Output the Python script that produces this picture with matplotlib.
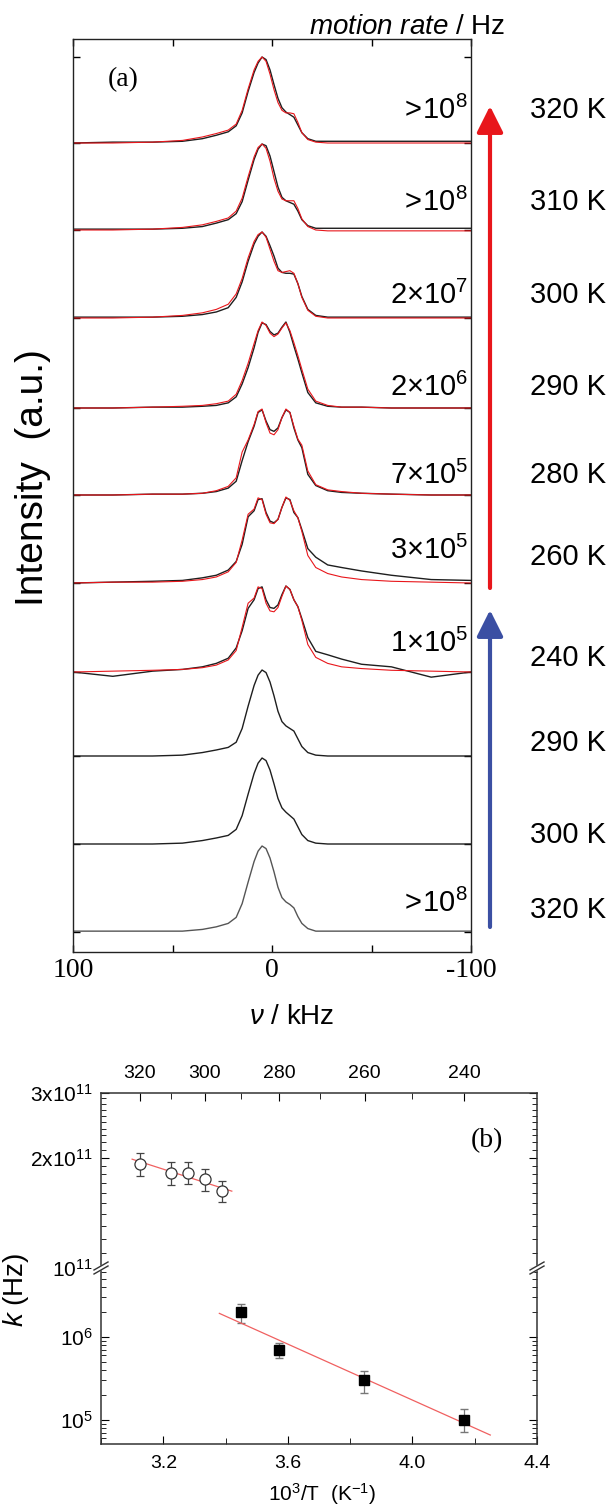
import matplotlib
matplotlib.use("Agg")
import matplotlib.pyplot as plt
import numpy as np
from matplotlib.lines import Line2D
from matplotlib.patches import Polygon

plt.rcParams["font.family"] = ["Liberation Sans", "DejaVu Sans"]
plt.rcParams["mathtext.fontset"] = "custom"
plt.rcParams["mathtext.rm"] = "Liberation Sans"
plt.rcParams["mathtext.it"] = "Liberation Sans:italic"
plt.rcParams["mathtext.default"] = "regular"

# ---------------- panel (a) data: 2H NMR spectra, normalised heights ----------------
nu = [100, 80, 60, 45, 35, 28, 22, 18, 15, 12, 9, 7, 5, 3, 1, -1, -3, -5, -7, -9,
      -11, -13, -15, -18, -22, -28, -35, -45, -60, -80, -100]

temps_a = ["320 K", "310 K", "300 K", "290 K", "280 K", "260 K", "240 K", "290 K", "300 K", "320 K"]
rates_a = [r"${>}\!10^{8}$", r"${>}\!10^{8}$", r"$2{\times}10^{7}$", r"$2{\times}10^{6}$", r"$7{\times}10^{5}$",
           r"$3{\times}10^{5}$", r"$1{\times}10^{5}$", "", "", r"${>}\!10^{8}$"]

exp_spectra = [
    [0.00, 0.01, 0.01, 0.02, 0.05, 0.09, 0.13, 0.20, 0.35, 0.60, 0.82, 0.93, 1.00, 0.97, 0.85, 0.68, 0.52, 0.41, 0.36, 0.33, 0.30, 0.21, 0.12, 0.05, 0.02, 0.02, 0.02, 0.02, 0.02, 0.02, 0.02],
    [0.01, 0.01, 0.01, 0.02, 0.04, 0.08, 0.12, 0.19, 0.33, 0.58, 0.82, 0.94, 1.00, 0.98, 0.86, 0.68, 0.50, 0.38, 0.34, 0.32, 0.30, 0.22, 0.12, 0.05, 0.02, 0.02, 0.02, 0.02, 0.02, 0.02, 0.02],
    [0.01, 0.01, 0.01, 0.02, 0.04, 0.07, 0.12, 0.24, 0.42, 0.66, 0.86, 0.95, 1.00, 0.95, 0.84, 0.72, 0.58, 0.53, 0.52, 0.52, 0.51, 0.40, 0.25, 0.10, 0.03, 0.01, 0.01, 0.01, 0.01, 0.01, 0.01],
    [0.00, 0.00, 0.01, 0.01, 0.02, 0.03, 0.06, 0.13, 0.28, 0.47, 0.70, 0.88, 0.99, 0.97, 0.89, 0.85, 0.87, 0.94, 1.00, 0.88, 0.72, 0.57, 0.41, 0.18, 0.06, 0.02, 0.01, 0.01, 0.00, 0.00, 0.00],
    [0.00, 0.00, 0.01, 0.01, 0.02, 0.04, 0.08, 0.16, 0.40, 0.62, 0.80, 0.96, 0.99, 0.86, 0.76, 0.74, 0.78, 0.90, 0.99, 0.96, 0.78, 0.64, 0.55, 0.24, 0.11, 0.05, 0.03, 0.02, 0.01, 0.00, 0.00],
    [0.00, 0.01, 0.02, 0.03, 0.06, 0.09, 0.15, 0.25, 0.45, 0.77, 0.84, 0.97, 0.98, 0.82, 0.72, 0.70, 0.74, 0.88, 0.99, 0.97, 0.82, 0.76, 0.62, 0.40, 0.30, 0.21, 0.18, 0.14, 0.09, 0.04, 0.03],
    [0.00, -0.05, 0.01, 0.03, 0.06, 0.10, 0.16, 0.28, 0.48, 0.74, 0.84, 0.97, 0.99, 0.84, 0.75, 0.74, 0.78, 0.90, 1.00, 0.96, 0.84, 0.76, 0.62, 0.40, 0.24, 0.20, 0.15, 0.09, 0.06, -0.06, 0.00],
    [0.00, 0.00, 0.00, 0.01, 0.04, 0.07, 0.10, 0.16, 0.32, 0.58, 0.82, 0.94, 1.00, 0.97, 0.86, 0.70, 0.52, 0.40, 0.35, 0.32, 0.29, 0.20, 0.11, 0.04, 0.01, 0.00, 0.00, 0.00, 0.00, 0.00, 0.00],
    [0.00, 0.00, 0.00, 0.01, 0.04, 0.07, 0.10, 0.17, 0.33, 0.58, 0.82, 0.94, 1.00, 0.97, 0.86, 0.70, 0.53, 0.42, 0.37, 0.33, 0.29, 0.20, 0.11, 0.04, 0.01, 0.00, 0.00, 0.00, 0.00, 0.00, 0.00],
    [0.01, 0.01, 0.01, 0.01, 0.03, 0.06, 0.10, 0.17, 0.33, 0.58, 0.82, 0.94, 1.00, 0.97, 0.86, 0.70, 0.52, 0.40, 0.35, 0.32, 0.28, 0.18, 0.10, 0.04, 0.01, 0.01, 0.01, 0.01, 0.01, 0.01, 0.01],
]

fit_spectra = [
    [0.00, 0.00, 0.01, 0.03, 0.07, 0.11, 0.15, 0.22, 0.38, 0.63, 0.85, 0.95, 1.00, 0.95, 0.80, 0.62, 0.47, 0.38, 0.35, 0.35, 0.34, 0.24, 0.12, 0.04, 0.01, 0.00, 0.00, 0.00, 0.00, 0.00, 0.00],
    [0.00, 0.00, 0.01, 0.03, 0.06, 0.10, 0.14, 0.22, 0.37, 0.62, 0.85, 0.96, 1.00, 0.95, 0.80, 0.60, 0.45, 0.36, 0.34, 0.34, 0.34, 0.25, 0.13, 0.04, 0.00, -0.01, -0.01, -0.01, -0.01, -0.01, -0.01],
    [0.00, 0.00, 0.01, 0.03, 0.06, 0.10, 0.16, 0.28, 0.46, 0.70, 0.89, 0.97, 1.00, 0.94, 0.80, 0.66, 0.55, 0.53, 0.54, 0.55, 0.52, 0.40, 0.24, 0.09, 0.02, 0.00, 0.00, 0.00, 0.00, 0.00, 0.00],
    [0.00, 0.00, 0.01, 0.02, 0.03, 0.05, 0.08, 0.16, 0.32, 0.52, 0.75, 0.90, 1.00, 0.96, 0.87, 0.83, 0.86, 0.93, 0.99, 0.90, 0.76, 0.61, 0.45, 0.22, 0.08, 0.03, 0.01, 0.01, 0.00, 0.00, 0.00],
    [0.00, 0.00, 0.01, 0.01, 0.02, 0.05, 0.10, 0.20, 0.50, 0.64, 0.82, 0.97, 1.00, 0.84, 0.72, 0.70, 0.76, 0.90, 1.00, 0.96, 0.80, 0.65, 0.58, 0.28, 0.12, 0.06, 0.04, 0.02, 0.01, 0.00, 0.00],
    [0.00, 0.01, 0.01, 0.02, 0.04, 0.07, 0.13, 0.24, 0.50, 0.80, 0.86, 0.99, 0.97, 0.80, 0.70, 0.69, 0.74, 0.88, 1.00, 0.96, 0.84, 0.76, 0.60, 0.32, 0.18, 0.11, 0.07, 0.04, 0.02, 0.01, 0.00],
    [0.00, 0.01, 0.02, 0.03, 0.05, 0.08, 0.14, 0.25, 0.52, 0.80, 0.86, 0.99, 0.97, 0.80, 0.71, 0.70, 0.75, 0.88, 1.00, 0.96, 0.84, 0.76, 0.60, 0.32, 0.17, 0.10, 0.06, 0.04, 0.02, 0.01, 0.00],
    None, None, None,
]

# ---------------- panel (b) data: motion rate vs 1000/T ----------------
invT_fast = [3.125, 3.226, 3.279, 3.333, 3.390]
k_fast = [1.92e11, 1.81e11, 1.82e11, 1.745e11, 1.62e11]
k_fast_err = [0.14e11, 0.13e11, 0.13e11, 0.12e11, 0.11e11]
fit_fast_x = [3.10, 3.42]
fit_fast_y = [1.98e11, 1.62e11]

invT_slow = [3.448, 3.571, 3.846, 4.167]
k_slow = [2.0e6, 7.0e5, 3.0e5, 1.0e5]
k_slow_lo = [0.53e6, 1.5e5, 0.9e5, 0.29e5]
k_slow_hi = [0.46e6, 1.5e5, 0.9e5, 0.34e5]
fit_slow_x = [3.38, 4.25]
fit_slow_y = [1.91e6, 6.6e4]

top_temps = [320, 300, 280, 260, 240]
top_minor = [310, 290, 270, 250]

# ---------------- layout ----------------
W, H = 613, 1512
fig = plt.figure(figsize=(W / 100, H / 100), dpi=100)


def fx(px):
    return px / W


def fy(py):
    return 1 - py / H


base_px = [143, 230, 318, 408, 495, 583, 672, 756, 844, 932]
temp_px = [110, 202, 295, 387, 475, 557, 658, 743, 835, 910]
rate_px = [110, 202, 295, 387, 475, 550, 643, 0, 0, 903]

ax = fig.add_axes([fx(73), fy(952), (471 - 73) / W, (952 - 39) / H])
for i in range(10):
    y0 = 952 - base_px[i]
    col = "#555555" if i == 9 else "#1e1e1e"
    ax.plot(nu, y0 + np.array(exp_spectra[i]) * 86, color=col, lw=1.0)
    if fit_spectra[i] is not None:
        ax.plot(nu, y0 + np.array(fit_spectra[i]) * 86, color="#e8161b", lw=0.8)
    fig.text(fx(568), fy(temp_px[i]), temps_a[i], fontsize=21, ha="center", va="center")
    if rates_a[i]:
        fig.text(fx(468), fy(rate_px[i]), rates_a[i], fontsize=21, ha="right", va="center")

ax.set_xlim(100, -100)
ax.set_ylim(0, 913)
ax.set_xticks([100, 0, -100])
ax.set_xticklabels(["100", "0", "-100"], family="Liberation Serif", fontsize=20)
ax.set_xticks([50, -50], minor=True)
ax.set_yticks([952 - b for b in base_px] + [952 - 57])
ax.set_yticklabels([])
ax.tick_params(direction="in", length=5, width=1, top=True, right=True, pad=4)
ax.tick_params(which="minor", direction="in", length=5, width=1, top=True)
for s in ax.spines.values():
    s.set_linewidth(1.0)
    s.set_color("#222222")

ax.text(0.125, 0.955, "(a)", transform=ax.transAxes, family="Liberation Serif",
        fontsize=20, ha="center", va="center")
fig.text(fx(505), fy(27), r"$\mathit{motion\ rate}$ / Hz", fontsize=20, ha="right", va="center")
fig.text(fx(292), fy(1017), r"$\mathit{\nu}$ / kHz", fontsize=20, ha="center", va="center")
fig.text(fx(33), fy(478), "Intensity  (a.u.)", fontsize=28, rotation=90, ha="center", va="center")

# arrows
fig.add_artist(plt.Annotation("", xy=(fx(490), fy(106)), xytext=(fx(490), fy(588)),
                              xycoords="figure fraction", textcoords="figure fraction",
                              arrowprops=dict(arrowstyle="-|>,head_length=0.8,head_width=0.4",
                                              color="#e8161b", lw=3, mutation_scale=20,
                                              shrinkA=0, shrinkB=0)))
fig.add_artist(plt.Annotation("", xy=(fx(490), fy(610)), xytext=(fx(490), fy(927)),
                              xycoords="figure fraction", textcoords="figure fraction",
                              arrowprops=dict(arrowstyle="-|>,head_length=0.8,head_width=0.4",
                                              color="#3b4fa3", lw=3, mutation_scale=20,
                                              shrinkA=0, shrinkB=0)))

# ---------------- panel (b) ----------------
ax_hi = fig.add_axes([fx(101), fy(1268), (537 - 101) / W, (1268 - 1093) / H])
ax_lo = fig.add_axes([fx(101), fy(1444), (537 - 101) / W, (1444 - 1268) / H])

ax_hi.errorbar(invT_fast, k_fast, yerr=k_fast_err, fmt="o", mfc="white", mec="#333333",
               ms=8, mew=0.9, ecolor="#444444", elinewidth=0.9, capsize=3)
ax_hi.plot(fit_fast_x, fit_fast_y, color="#f06060", lw=0.9)
ax_lo.errorbar(invT_slow, k_slow, yerr=[k_slow_lo, k_slow_hi], fmt="s", color="black",
               ms=7, ecolor="#777777", elinewidth=0.9, capsize=3)
ax_lo.plot(fit_slow_x, fit_slow_y, color="#f06060", lw=0.9)

for a in (ax_hi, ax_lo):
    a.set_xlim(3.0, 4.4)
    a.set_yscale("log")
    for s in a.spines.values():
        s.set_linewidth(1.1)
        s.set_color("#333333")

ax_hi.set_ylim(1e11, 3e11)
ax_hi.set_yticks([1e11, 2e11, 3e11])
ax_hi.set_yticklabels([r"$10^{11}$", r"$2x10^{11}$", r"$3x10^{11}$"], fontsize=15)
ax_hi.set_yticks([v * 1e10 for v in range(11, 30) if v != 20], minor=True)
ax_hi.set_yticklabels([], minor=True)
ax_hi.spines["bottom"].set_visible(False)
ax_hi.set_xticks([1000 / t for t in top_temps])
ax_hi.set_xticklabels([str(t) for t in top_temps], fontsize=14)
ax_hi.set_xticks([1000 / t for t in top_minor], minor=True)
ax_hi.tick_params(axis="x", which="both", top=True, bottom=False, labeltop=True,
                  labelbottom=False, direction="in")
ax_hi.tick_params(axis="x", which="major", length=6, pad=8)
ax_hi.tick_params(axis="x", which="minor", length=4)
ax_hi.tick_params(axis="y", which="both", direction="in", left=True, right=True)
ax_hi.tick_params(axis="y", which="major", length=6, pad=6)
ax_hi.tick_params(axis="y", which="minor", length=3.5)

ax_lo.set_ylim(5.15e4, 6.7e6)
ax_lo.set_yticks([1e5, 1e6])
ax_lo.set_yticklabels([r"$10^{5}$", r"$10^{6}$"], fontsize=15)
ax_lo.spines["top"].set_visible(False)
ax_lo.set_xticks([3.2, 3.6, 4.0, 4.4])
ax_lo.set_xticklabels(["3.2", "3.6", "4.0", "4.4"], fontsize=14)
ax_lo.set_xticks([3.0, 3.4, 3.8, 4.2], minor=True)
ax_lo.tick_params(axis="x", which="both", direction="in", top=False, pad=8)
ax_lo.tick_params(axis="x", which="major", length=6)
ax_lo.tick_params(axis="x", which="minor", length=4)
ax_lo.tick_params(axis="y", which="both", direction="in", left=True, right=True)
ax_lo.tick_params(axis="y", which="major", length=6, pad=6)
ax_lo.tick_params(axis="y", which="minor", length=3.5)
ax_lo.set_yticklabels([], minor=True)

# axis break marks
for xb in (101, 537):
    gap = Polygon([(fx(xb - 7), fy(1270)), (fx(xb + 5), fy(1262)), (fx(xb + 7), fy(1266)),
                   (fx(xb - 5), fy(1274))], closed=True, transform=fig.transFigure,
                  facecolor="white", edgecolor="none", zorder=10)
    fig.add_artist(gap)
    for dy in (-2, 2):
        fig.add_artist(Line2D([fx(xb - 7), fx(xb + 7)], [fy(1272 + dy), fy(1264 + dy)],
                              transform=fig.transFigure, color="#333333", lw=1.0, zorder=11))

ax_hi.text(0.885, 0.73, "(b)", transform=ax_hi.transAxes, family="Liberation Serif",
           fontsize=20, ha="center", va="center")
fig.text(fx(16), fy(1290), r"$\mathit{k}$ (Hz)", fontsize=20, rotation=90, ha="center", va="center")
fig.text(fx(322), fy(1494), r"$10^{3}$/T  (K$^{-1}$)", fontsize=15, ha="center", va="center")

fig.savefig("out.png", dpi=100)
